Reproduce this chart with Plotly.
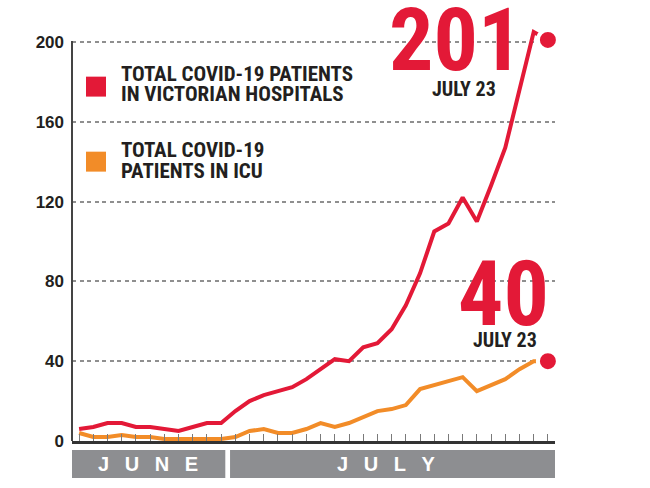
import pandas as pd
import plotly.graph_objects as go

# daily figures, June 20 - July 23
dates = pd.date_range("2020-06-20", "2020-07-23", freq="D")
hospital = [6, 7, 9, 9, 7, 7, 6, 5, 7, 9, 9,
            15, 20, 23, 25, 27, 31, 36, 41, 40, 47, 49, 56,
            68, 84, 105, 109, 122, 110, 128, 147, 176, 205, 201]
icu = [4, 2, 2, 3, 2, 2, 1, 1, 1, 1, 1,
       2, 5, 6, 4, 4, 6, 9, 7, 9, 12, 15, 16,
       18, 26, 28, 30, 32, 25, 28, 31, 36, 40, 40]
y_ticks = [0, 40, 80, 120, 160, 200]
months = ["JUNE", "JULY"]
month_start = ["2020-06-19 12:00", "2020-06-30 15:00"]
month_end = ["2020-06-30 07:00", "2020-07-23 12:00"]
month_text_x = ["2020-06-24 21:00", "2020-07-11 14:00"]
series_names = ["TOTAL COVID-19 PATIENTS|IN VICTORIAN HOSPITALS",
                "TOTAL COVID-19|PATIENTS IN ICU"]
last_label = "JULY 23"

RED = "#e31937"
ORANGE = "#f28c28"
INK = "#231f20"
GREY = "#8d8e91"
NARROW = "Roboto Condensed, Liberation Sans Narrow, DejaVu Sans Condensed, sans-serif"
WIDE = "Liberation Sans, Arial, sans-serif"

fig = go.Figure()
fig.add_trace(go.Scatter(x=dates, y=icu, mode="lines",
                         line=dict(color=ORANGE, width=4), showlegend=False))
fig.add_trace(go.Scatter(x=dates, y=hospital, mode="lines",
                         line=dict(color=RED, width=4), showlegend=False))
fig.add_trace(go.Scatter(x=[dates[-1], dates[-1]], y=[hospital[-1], icu[-1]],
                         mode="markers", cliponaxis=False, showlegend=False,
                         marker=dict(color=RED, size=20, line=dict(color="white", width=4))))

# y axis spine only up to the top gridline
fig.add_shape(type="line", xref="paper", yref="y", x0=0, x1=0, y0=0, y1=200.5,
              line=dict(color="#444444", width=2))

# white knock-outs so the big numbers break the gridlines (but not the lines)
for x0, yc in [(0.648, 200), (0.8406, 80)]:
    fig.add_shape(type="rect", xref="paper", yref="y", x0=x0, x1=1.0,
                  y0=yc - 3, y1=yc + 3, fillcolor="white", line_width=0, layer="between")

# month bands under the axis
for name, x0, x1, xt in zip(months, month_start, month_end, month_text_x):
    fig.add_shape(type="rect", xref="x", yref="paper", x0=x0, x1=x1,
                  y0=-0.0859, y1=-0.0209, fillcolor=GREY, line_width=0)
    fig.add_annotation(x=xt, y=-0.0534, xref="x", yref="paper", showarrow=False,
                       xanchor="center", yanchor="middle",
                       text="\u2002\u00a0".join(name),
                       font=dict(family=WIDE, size=20, color="white", weight="bold"))

# legend: squares + two-line labels
for color, label, y0, lines_y in [(RED, series_names[0], 172.6, (183.7, 173.7)),
                                  (ORANGE, series_names[1], 135.0, (145.9, 135.1))]:
    fig.add_shape(type="rect", xref="paper", yref="y", x0=0.029, x1=0.0704,
                  y0=y0, y1=y0 + 10, fillcolor=color, line_width=0)
    for txt, yy in zip(label.split("|"), lines_y):
        fig.add_annotation(x=0.0973, y=yy, xref="paper", yref="y", showarrow=False,
                           xanchor="left", yanchor="middle", text=txt,
                           font=dict(family=NARROW, size=21, color=INK, weight="bold"))

# big end-value call-outs
for value, x, y, xs, ys, size in [(hospital[-1], 0.795, 201.0, 0.8106, 176.2, 88),
                                  (icu[-1], 0.894, 73.2, 0.8975, 50.6, 90)]:
    fig.add_annotation(x=x, y=y, xref="paper", yref="y", showarrow=False,
                       xanchor="center", yanchor="middle", text=str(value),
                       font=dict(family=NARROW, size=size, color=RED, weight="bold"))
    fig.add_annotation(x=xs, y=ys, xref="paper", yref="y", showarrow=False,
                       xanchor="center", yanchor="middle", text=last_label,
                       font=dict(family=NARROW, size=20, color=INK, weight="bold"))

fig.update_layout(
    width=650, height=488, autosize=False,
    margin=dict(l=72, r=95, t=10, b=47),
    plot_bgcolor="white", paper_bgcolor="white",
    xaxis=dict(range=["2020-06-19 12:00", "2020-07-23 12:00"], showgrid=False,
               showline=True, linecolor="#333333", linewidth=2.5,
               ticks="inside", ticklen=7, tickcolor="#7a7a7a", tickwidth=1,
               tick0="2020-06-20", dtick=86400000, showticklabels=False, zeroline=False),
    yaxis=dict(range=[0, 216], tickvals=y_ticks, showline=False,
               ticks="", ticklabelstandoff=7, zeroline=False,
               showgrid=True, gridcolor="#8f8f8f", gridwidth=1.5, griddash="4px,3.5px",
               tickfont=dict(family=WIDE, size=17, color=INK, weight="bold")),
)

fig.write_html("out.html", config={"displayModeBar": False},
               post_script="document.body.style.margin='0';")
